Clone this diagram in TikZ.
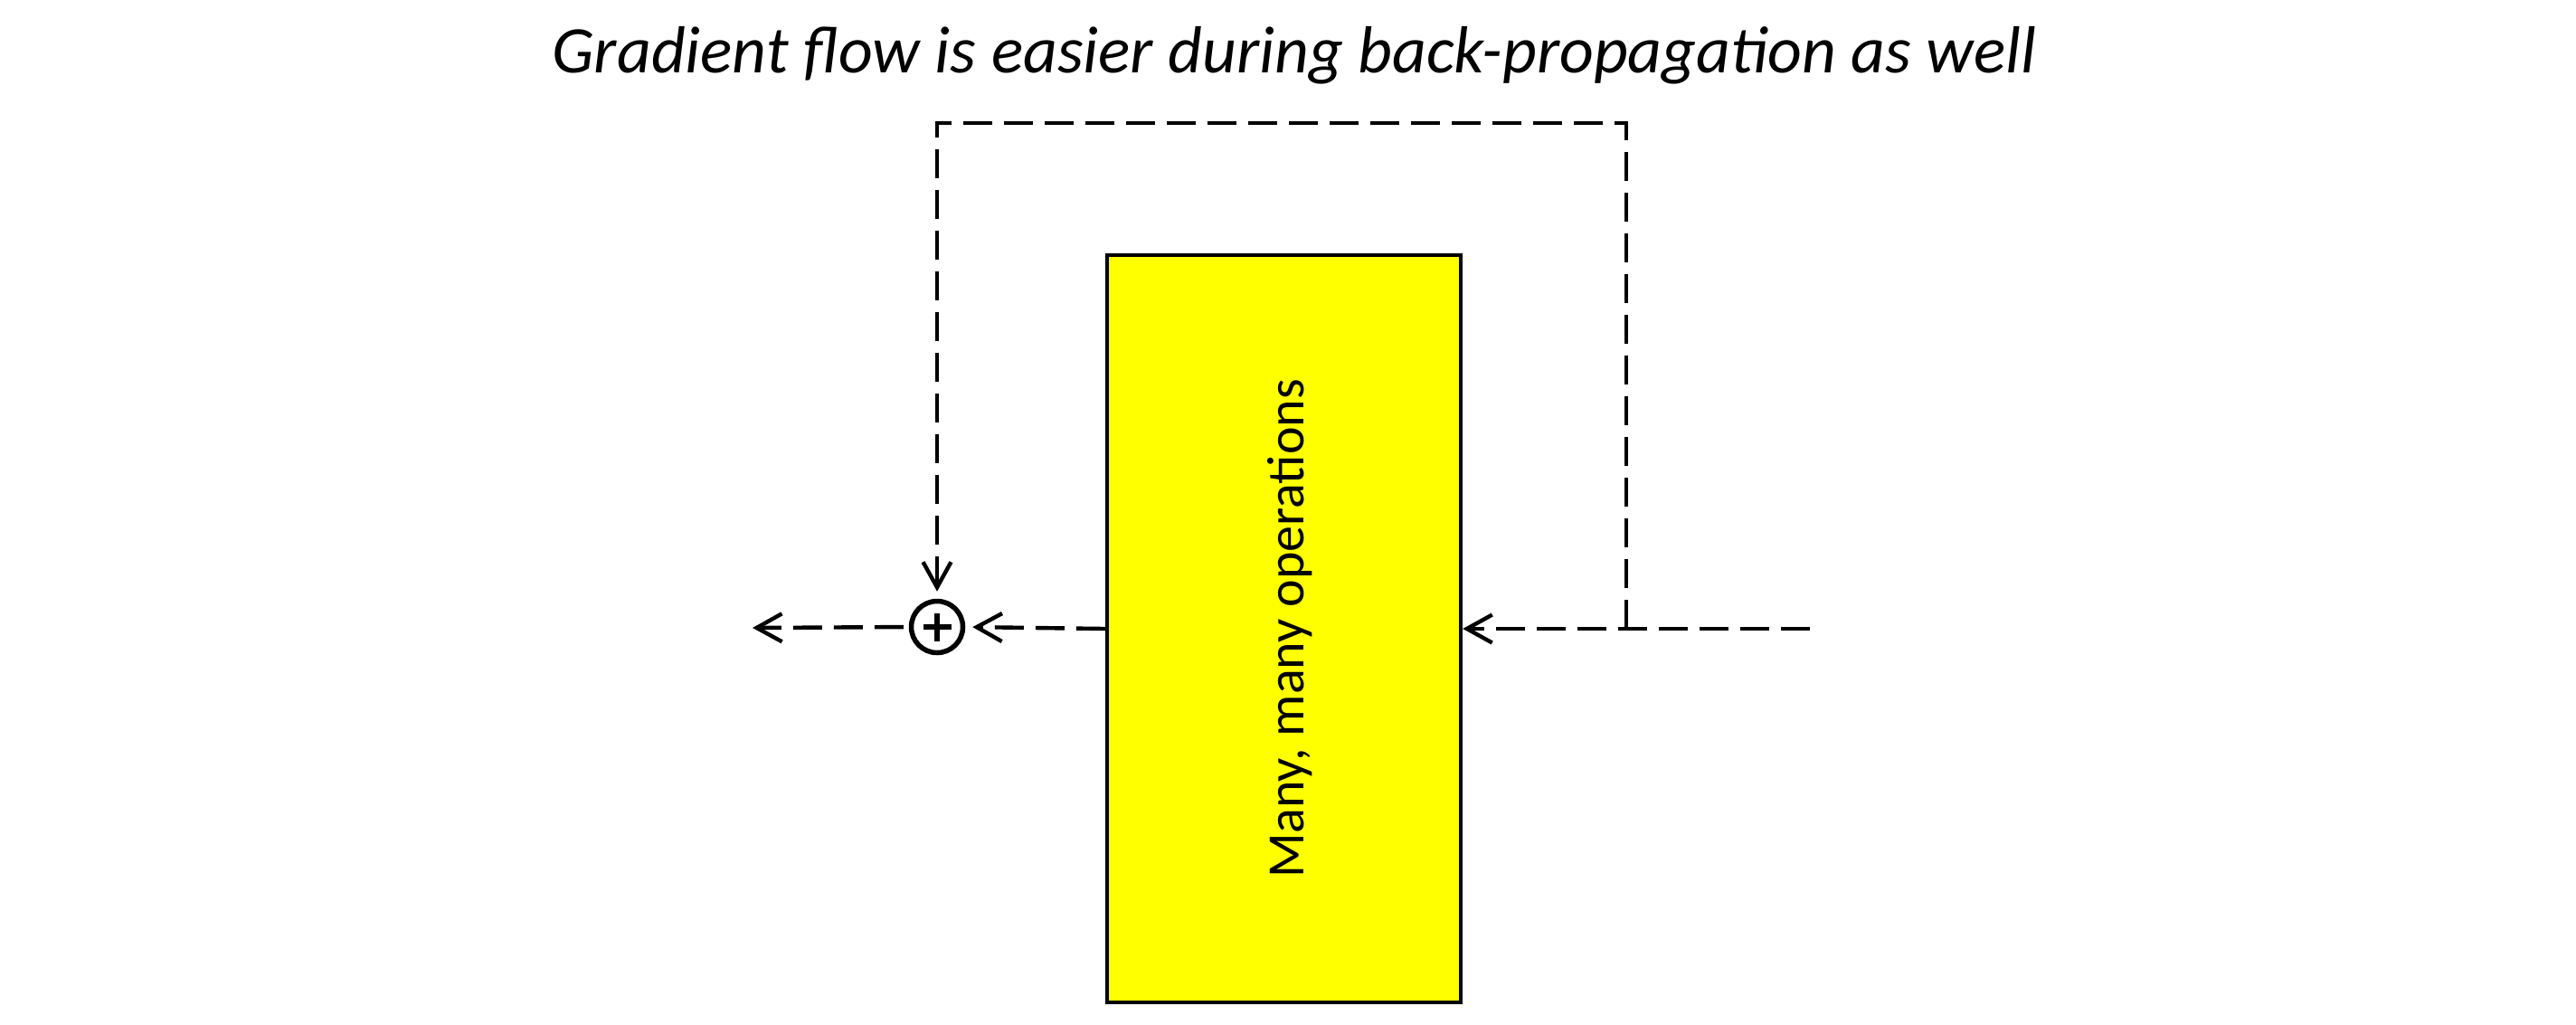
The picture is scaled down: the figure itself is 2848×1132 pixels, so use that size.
\documentclass[tikz,border=0pt]{standalone}
\usepackage{fontspec}
\setmainfont{Carlito}
\usetikzlibrary{arrows.meta}
\definecolor{opyellow}{RGB}{255,255,0}
\begin{document}
\begin{tikzpicture}[x=0.5pt,y=-0.5pt,
  dashline/.style={line width=2.2pt, dash pattern=on 16pt off 6.5pt, -{Straight Barb[length=14pt,width=15.5pt,line width=2.2pt]}},
  opbox/.style={draw, line width=2.2pt, fill=opyellow, minimum width=195.5pt, minimum height=413pt, inner sep=0pt},
  sumnode/.style={circle, draw, line width=2.75pt, minimum size=28.5pt, inner sep=0pt},
  plusbar/.style={line width=3pt},
  titletext/.style={font=\itshape\fontsize{36.8}{42}\selectfont, inner sep=0pt},
  boxtext/.style={font=\fontsize{29}{34}\selectfont, rotate=90, inner sep=0pt}
]
\useasboundingbox (0,0) rectangle (2848,1132);
\node[titletext, anchor=base] (title) at (1431,80) {Gradient flow is easier during back-propagation as well};
\node[opbox] (box) at (1419.5,695) {};
\node[boxtext] (boxlabel) at (1426,695) {Many, many operations};
\node[sumnode] (sum) at (1036,693) {};
\draw[plusbar] ([xshift=-7.75pt]sum.center) -- ([xshift=7.75pt]sum.center);
\draw[plusbar] ([yshift=-7.75pt]sum.center) -- ([yshift=7.75pt]sum.center);
\coordinate (inR) at (2001,695);
\coordinate (j) at (1798,695);
\coordinate (tr) at (1798,136);
\coordinate (tl) at (1036,136);
\coordinate (outL) at (832,694);
\draw[dashline] (inR) -- (box.east);
\draw[dashline, shorten >=4pt] (j) -- (tr) -- (tl) -- (sum.north);
\draw[dashline, shorten >=4pt] (box.west) -- (sum.east);
\draw[dashline, shorten <=3pt] (sum.west) -- (outL);
\end{tikzpicture}
\end{document}
